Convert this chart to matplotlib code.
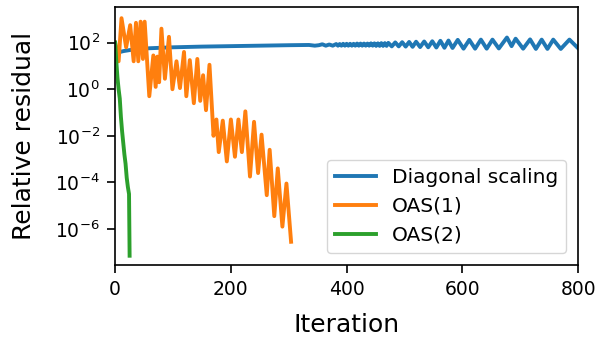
import numpy as np
import matplotlib
matplotlib.use("Agg")
import matplotlib.pyplot as plt

# values (exponents of the relative residual, log10)
blue_it = [0, 5, 15, 30, 60, 100, 150, 200, 250, 300, 335, 345, 352, 358, 364, 370, 376,
           382, 385, 388, 391, 394, 397, 400, 403, 406, 409, 412, 415, 418, 421, 424, 427,
           430, 433, 436, 439, 442, 445, 448, 451, 454, 457, 460, 463, 466, 469, 472,
           478, 484, 490, 496, 502, 508, 514, 520,
           527, 534, 541, 548, 555, 562, 569, 576, 583,
           592, 602, 612, 622, 632, 642, 652, 663, 677, 685, 692, 705, 717, 727, 737,
           747, 757, 770, 785, 800]
blue_exp = [1.5, 1.58, 1.64, 1.7, 1.76, 1.8, 1.83, 1.85, 1.87, 1.89, 1.9, 1.87, 1.89, 1.93, 1.87, 1.92, 1.87,
            1.94, 1.87, 1.94, 1.87, 1.95, 1.87, 1.95, 1.87, 1.95, 1.87, 1.95, 1.87, 1.96, 1.87, 1.96, 1.87,
            1.96, 1.87, 1.96, 1.87, 1.97, 1.87, 1.97, 1.86, 1.97, 1.86, 1.98, 1.86, 1.98, 1.86, 1.99,
            1.84, 2.01, 1.84, 2.02, 1.83, 2.03, 1.82, 2.04,
            1.81, 2.05, 1.8, 2.06, 1.79, 2.08, 1.78, 2.09, 1.77,
            2.12, 1.74, 2.12, 1.74, 2.13, 1.74, 2.13, 1.75, 2.22, 1.85, 2.17, 1.74, 2.14, 1.73, 2.13,
            1.73, 2.13, 1.73, 2.13, 1.76]

orange_it = [0, 6, 11, 19, 26, 32, 36, 40, 44, 48, 51, 59, 66, 70, 73, 76, 80, 86, 93, 99,
             106, 112, 119, 123, 129, 136, 142, 147, 152, 157, 163, 170, 175, 179, 186, 193, 200, 207,
             213, 219, 225, 233, 240, 247, 253, 262, 267, 275, 281, 289, 296, 304]
orange_exp = [2.0, 1.2, 3.05, 1.8, 2.75, 1.2, 2.85, 1.2, 2.9, 1.3, 2.9, -0.3, 1.45, 0.1, 1.4, 0.3,
              2.6, 0.45, 2.25, 0.0, 1.2, 0.05, 1.6, -0.3, 1.25, -0.6, 1.3, -0.5, 0.6, -0.9, 1.05, -2.0, -1.3,
              -2.7, -1.35, -3.1, -1.3, -2.9, -1.3, -2.7, -0.95, -3.75, -1.4, -3.6, -1.95, -4.55,
              -2.6, -5.45, -3.4, -5.9, -4.05, -6.55]

green_it = [0, 2, 4, 6, 8, 10, 12, 14, 16, 18, 20, 22, 24, 25]
green_exp = [2.0, 1.2, 0.5, 0.0, -0.4, -1.2, -1.8, -2.3, -2.8, -3.2, -3.8, -4.2, -4.5, -7.15]

labels = ["Diagonal scaling", "OAS(1)", "OAS(2)"]
xticks = [0, 200, 400, 600, 800]
yexps = [2, 0, -2, -4, -6]

fig = plt.figure(figsize=(6.06, 3.42), dpi=100)
ax = fig.add_axes([0.19, 0.225, 0.764, 0.7545])

series = [(blue_it, blue_exp), (orange_it, orange_exp), (green_it, green_exp)]
for (xs, es), lab in zip(series, labels):
    ax.plot(xs, 10.0 ** np.array(es), lw=2.8, label=lab)

ax.set_yscale("log")
ax.set_xlim(0, 800)
ax.set_ylim(10 ** -7.55, 10 ** 3.53)
ax.set_xticks(xticks)
ax.set_yticks([10.0 ** e for e in yexps])
ax.yaxis.set_minor_locator(matplotlib.ticker.NullLocator())
ax.tick_params(labelsize=13.5, length=6, width=1.2, pad=5)
for s in ax.spines.values():
    s.set_linewidth(1.2)
ax.set_xlabel("Iteration", fontsize=18, labelpad=10)
ax.set_ylabel("Relative residual", fontsize=18, labelpad=14)
ax.legend(loc="lower right", fontsize=14.5, borderaxespad=0.6)

fig.savefig("out.png", dpi=100)
